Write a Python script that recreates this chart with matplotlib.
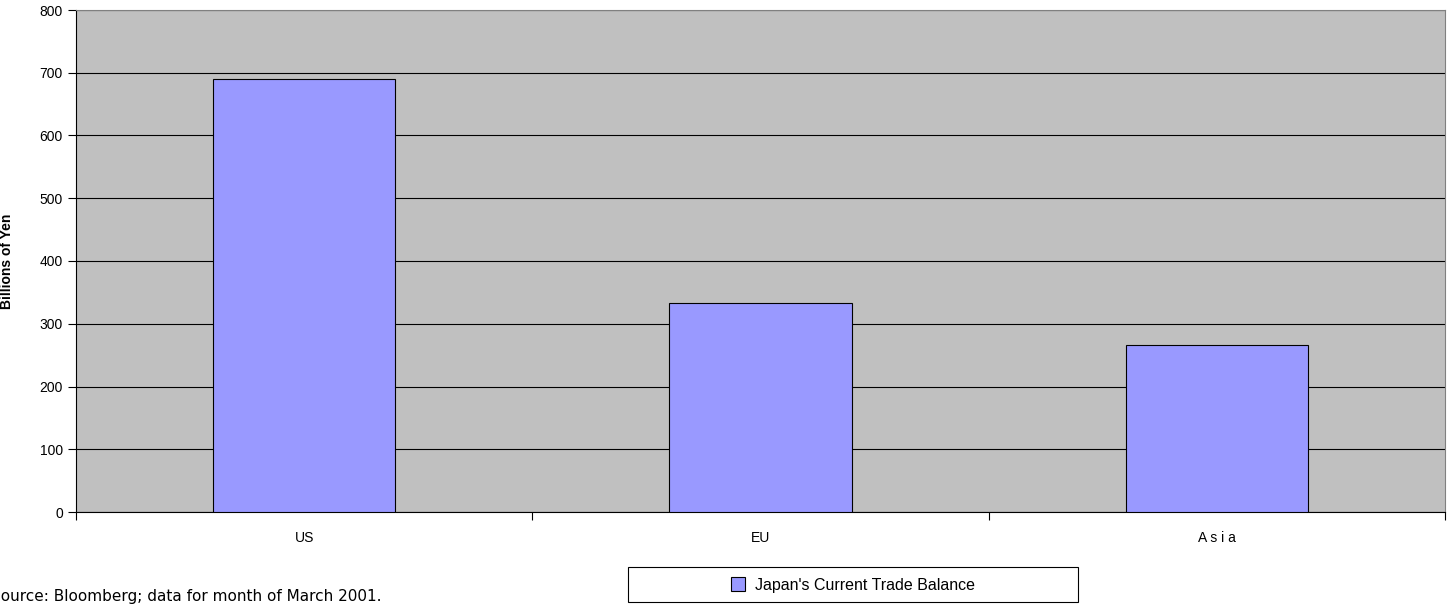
import matplotlib.pyplot as plt
from matplotlib.patches import Rectangle
import numpy as np

# data
regions = ["US", "EU", "A s i a"]
balance = [690, 333, 266]
series_name = "Japan's Current Trade Balance"
source_note = "Source: Bloomberg; data for month of March 2001."

plt.rcParams['font.family'] = ['Liberation Sans', 'DejaVu Sans']

fig = plt.figure(figsize=(14.48, 6.05), dpi=100)
ax = fig.add_axes([76 / 1448, 93 / 605, 1369 / 1448, 502 / 605])
ax.set_facecolor("#c0c0c0")

x = np.arange(len(regions))
ax.bar(x, balance, width=0.4, color="#9999ff", edgecolor="black",
       linewidth=0.8, label=series_name, zorder=3)

ax.set_xlim(-0.5, len(regions) - 0.5)
ax.set_ylim(0, 800)
ax.set_yticks(range(0, 801, 100))
ax.yaxis.grid(True, color="black", linewidth=0.8, zorder=0)
ax.set_axisbelow(True)

# category labels sit between the boundary ticks
ax.set_xticks(np.arange(-0.5, len(regions), 1.0))
ax.set_xticklabels([])
ax.set_xticks(x, minor=True)
ax.set_xticklabels(regions, minor=True)
ax.tick_params(axis="x", which="minor", length=0, pad=14, labelsize=10)
ax.tick_params(axis="x", which="major", length=6, direction="out")
ax.tick_params(axis="y", length=6, direction="out", labelsize=10)

for side in ["top", "right"]:
    ax.spines[side].set_color("#808080")
for side in ["left", "bottom"]:
    ax.spines[side].set_color("black")

ax.set_ylabel("Billions of Yen", fontsize=10, fontweight="bold")
ax.yaxis.set_label_coords(-62 / 1369, 0.5)

# wide legend box with the entry centred in it
fig.patches.append(Rectangle((628 / 1448, 3 / 605), 450 / 1448, 35 / 605,
                             transform=fig.transFigure, facecolor="white",
                             edgecolor="black", linewidth=0.8))
fig.legend(loc="center", bbox_to_anchor=(853 / 1448, 1 - 585 / 605),
           frameon=False, fontsize=11.5, handlelength=0.9, handleheight=0.9,
           handletextpad=0.6)

fig.text(-9 / 1448, 1 - 597 / 605, source_note, fontsize=11, va="center",
         family="DejaVu Sans")

fig.savefig("out.png", dpi=100)
